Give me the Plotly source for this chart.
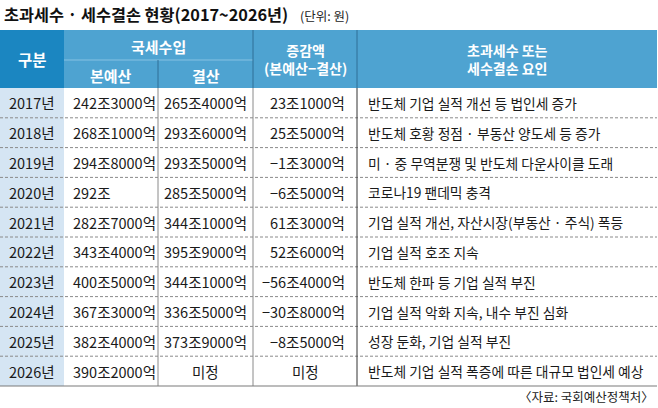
import plotly.graph_objects as go

years = ['2017년', '2018년', '2019년', '2020년', '2021년', '2022년', '2023년', '2024년', '2025년', '2026년']
budget = ['242조3000억', '268조1000억', '294조8000억', '292조', '282조7000억', '343조4000억',
          '400조5000억', '367조3000억', '382조4000억', '390조2000억']
settled = ['265조4000억', '293조6000억', '293조5000억', '285조5000억', '344조1000억', '395조9000억',
           '344조1000억', '336조5000억', '373조9000억', '미정']
diff = ['23조1000억', '25조5000억', '−1조3000억', '−6조5000억', '61조3000억', '52조6000억',
        '−56조4000억', '−30조8000억', '−8조5000억', '미정']
reasons = ['반도체 기업 실적 개선 등 법인세 증가',
           '반도체 호황 정점 · 부동산 양도세 등 증가',
           '미 · 중 무역분쟁 및 반도체 다운사이클 도래',
           '코로나19 팬데믹 충격',
           '기업 실적 개선, 자산시장(부동산 · 주식) 폭등',
           '기업 실적 호조 지속',
           '반도체 한파 등 기업 실적 부진',
           '기업 실적 악화 지속, 내수 부진 심화',
           '성장 둔화, 기업 실적 부진',
           '반도체 기업 실적 폭증에 따른 대규모 법인세 예상']

title = '초과세수 · 세수결손 현황(2017~2026년)'
unit = '(단위: 원)'
source = '〈자료: 국회예산정책처〉'

FONT = 'Noto Sans CJK KR'
W, H = 658, 408
cols = [0, 64, 158, 253, 357, 657]
head_top, head_mid, head_bot = 30, 60, 88
row_h = 29.8
dark_blue = '#1b86c1'
blue = '#4ea3d1'
light = '#d5e5f3'

fig = go.Figure()
shapes = []
ann = []

def rect(x0, y0, x1, y1, color):
    shapes.append(dict(type='rect', x0=x0, y0=y0, x1=x1, y1=y1, fillcolor=color,
                       line=dict(width=0), layer='below'))

def line(x0, y0, x1, y1, color, width=1, dash='solid'):
    shapes.append(dict(type='line', x0=x0, y0=y0, x1=x1, y1=y1,
                       line=dict(color=color, width=width, dash=dash)))

def text(x, y, s, size=14, color='#1a1a1a', anchor='center', bold=False):
    ann.append(dict(x=x, y=y, text=s, showarrow=False, xanchor=anchor, yanchor='middle',
                    font=dict(family=FONT, size=size, color=color,
                              weight='bold' if bold else 'normal')))

# header
rect(cols[0], head_top, cols[1], head_bot, dark_blue)
rect(cols[1], head_top, cols[5], head_bot, blue)
line(cols[1], head_mid, cols[3], head_mid, '#86c2e3', 1)
line(cols[2], head_mid, cols[2], head_bot, '#2f6f96', 1)
line(cols[3], head_top, cols[3], head_bot, '#2f6f96', 1)
line(cols[4], head_top, cols[4], head_bot, '#2f6f96', 1)

text((cols[0] + cols[1]) / 2, (head_top + head_bot) / 2, '구분', 15.5, 'white', bold=True)
text((cols[1] + cols[3]) / 2, (head_top + head_mid) / 2 + 1, '국세수입', 15, 'white', bold=True)
text((cols[1] + cols[2]) / 2, (head_mid + head_bot) / 2 + 1, '본예산', 15, 'white', bold=True)
text((cols[2] + cols[3]) / 2, (head_mid + head_bot) / 2 + 1, '결산', 15, 'white', bold=True)
text((cols[3] + cols[4]) / 2, (head_top + head_bot) / 2, '증감액<br>(본예산−결산)', 14, 'white', bold=True)
text((cols[4] + cols[5]) / 2, (head_top + head_bot) / 2, '초과세수 또는<br>세수결손 요인', 14, 'white', bold=True)

# body
n = len(years)
body_bot = head_bot + n * row_h
rect(cols[0], head_bot, cols[1], body_bot, light)
for i in range(n):
    y0 = head_bot + i * row_h
    yc = y0 + row_h / 2
    if i > 0:
        line(cols[0], y0, cols[5], y0, '#8a8a8a', 1, '3px,2px')
    text((cols[0] + cols[1]) / 2, yc, years[i], 14.5)
    text(cols[1] + 7, yc, budget[i], 14.5, anchor='left')
    text((cols[2] + cols[3]) / 2, yc, settled[i], 14.5)
    if diff[i] == '미정':
        text((cols[3] + cols[4]) / 2, yc, diff[i], 14.5)
    else:
        text(cols[4] - 10, yc, diff[i], 14.5, anchor='right')
    text(cols[4] + 9, yc, reasons[i], 13.8, anchor='left')

line(cols[2], head_bot, cols[2], body_bot, '#8a8a8a', 1)
line(cols[3], head_bot, cols[3], body_bot, '#8a8a8a', 1)
line(cols[4], head_bot, cols[4], body_bot, '#333333', 1)
line(cols[0], body_bot, cols[5], body_bot, '#7a7a7a', 1.2)

# title, unit, source
text(2, 14, title, 16.3, '#111', anchor='left', bold=True)
text(298, 15, unit, 12.5, '#222', anchor='left')
text(656, 396, source, 12.5, '#222', anchor='right')

fig.update_layout(
    width=W, height=H, margin=dict(l=0, r=0, t=0, b=0),
    paper_bgcolor='white', plot_bgcolor='white',
    xaxis=dict(range=[0, W], visible=False, fixedrange=True),
    yaxis=dict(range=[H, 0], visible=False, fixedrange=True),
    shapes=shapes, annotations=ann, showlegend=False,
)
fig.write_html('out.html', config={'displayModeBar': False},
               post_script="document.body.style.margin='0';document.body.style.overflow='hidden';")
